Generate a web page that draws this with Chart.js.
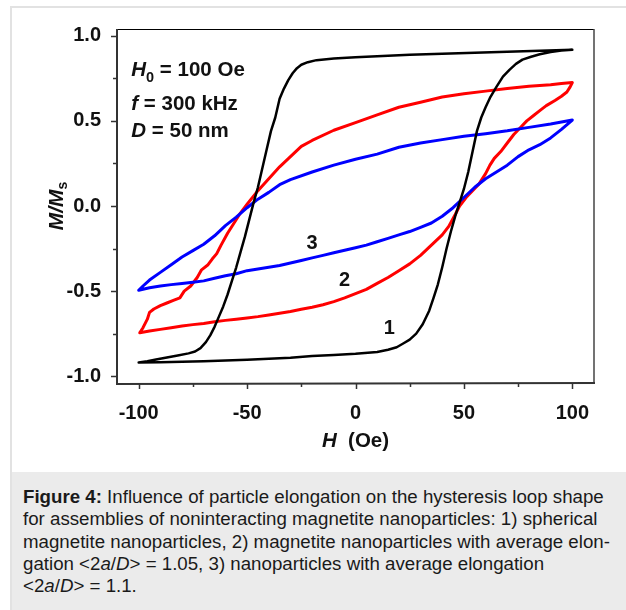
<!DOCTYPE html>
<html><head><meta charset="utf-8">
<script src="https://cdn.jsdelivr.net/npm/chart.js@4"></script>
<style>
html,body{margin:0;padding:0;background:#fff;width:626px;height:610px;overflow:hidden;position:relative;font-family:"Liberation Sans",Arial,sans-serif;}
#frame{position:absolute;left:10px;top:6px;width:640px;height:640px;border:2px solid #e2e2e2;box-sizing:border-box;}
#cap{position:absolute;left:12px;top:472px;width:640px;height:160px;background:#ebebeb;}
#captext{position:absolute;left:23px;top:486px;font-size:18.7px;line-height:22.3px;color:#1a1a1a;white-space:nowrap;}
canvas{position:absolute;left:0;top:0;}
</style></head><body>
<div id="frame"></div><div id="cap"></div>
<div id="captext"><b>Figure 4:</b> Influence of particle elongation on the hysteresis loop shape<br>for assemblies of noninteracting magnetite nanoparticles: 1) spherical<br>magnetite nanoparticles, 2) magnetite nanoparticles with average elon-<br>gation &lt;2<i>a</i>/<i>D</i>&gt; = 1.05, 3) nanoparticles with average elongation<br>&lt;2<i>a</i>/<i>D</i>&gt; = 1.1.</div>
<canvas id="c" width="626" height="470"></canvas>
<script>
// ---- tick values ----
const xTicks = [-100, -50, 0, 50, 100];
const xMinor = [-75, -25, 25, 75];
const yTicks = [-1, -0.5, 0, 0.5, 1];
const yMinor = [-0.75, -0.25, 0.25, 0.75];

// ---- curve 1 (black): lower branch then upper branch ----
const h1 = [-100,-90,-80,-70,-60,-50,-40,-30,-20,-10,0,10,15,19,22,25,28,31,34,36,38,40,42,44,46,48,50,52,54,56,58,60,62,65,68,71,74,77,81,85,90,95,100,
            85,70,55,40,25,10,0,-10,-18,-22,-25,-27,-29,-31,-33,-35,-37,-39,-41,-43,-45,-47,-49,-51,-53,-55,-57,-59,-61,-63,-65,-67,-69,-71.5,-74,-77,-82,-87,-92,-96,-100];
const m1 = [-0.92,-0.918,-0.915,-0.912,-0.908,-0.903,-0.897,-0.891,-0.882,-0.875,-0.868,-0.858,-0.845,-0.830,-0.808,-0.785,-0.75,-0.695,-0.615,-0.54,-0.46,-0.36,-0.25,-0.15,-0.06,0.02,0.10,0.20,0.32,0.44,0.52,0.58,0.635,0.70,0.76,0.80,0.835,0.86,0.877,0.892,0.905,0.913,0.918,
            0.912,0.906,0.900,0.895,0.888,0.880,0.874,0.866,0.857,0.845,0.83,0.81,0.78,0.74,0.69,0.63,0.52,0.44,0.33,0.22,0.11,0.02,-0.08,-0.18,-0.27,-0.36,-0.44,-0.52,-0.59,-0.65,-0.71,-0.76,-0.80,-0.835,-0.855,-0.866,-0.878,-0.89,-0.902,-0.912,-0.92];

// ---- curve 2 (red) ----
const h2 = [-99.5,-95,-90,-85,-80,-75,-70,-65,-60,-55,-50,-45,-40,-35,-30,-25,-20,-15,-10,-5,0,5,10,15,20,25,30,35,40,43,46,48,51,54,57,60,62,64,67,70,73,76,79,82,85,88,92,95,97.5,99,100,
            95,90,85,80,70,60,50,40,30,20,10,0,-10,-20,-25,-30,-35,-40,-45,-50,-53,-56,-59,-62,-64,-66,-68,-71,-73,-76,-79,-81,-84,-87,-90,-93,-95,-96,-98,-99.5];
const m2 = [-0.745,-0.735,-0.725,-0.715,-0.705,-0.697,-0.69,-0.68,-0.672,-0.665,-0.658,-0.65,-0.64,-0.63,-0.62,-0.607,-0.595,-0.58,-0.562,-0.54,-0.515,-0.49,-0.455,-0.42,-0.38,-0.34,-0.29,-0.23,-0.17,-0.12,-0.05,0.0,0.05,0.09,0.13,0.19,0.24,0.28,0.32,0.37,0.42,0.46,0.50,0.53,0.56,0.59,0.62,0.645,0.67,0.70,0.725,
            0.72,0.712,0.708,0.703,0.69,0.675,0.66,0.64,0.61,0.58,0.535,0.49,0.445,0.385,0.35,0.29,0.23,0.16,0.09,0.01,-0.04,-0.10,-0.16,-0.23,-0.28,-0.31,-0.345,-0.375,-0.42,-0.47,-0.5,-0.54,-0.555,-0.57,-0.585,-0.605,-0.625,-0.665,-0.715,-0.745];

// ---- curve 3 (blue) ----
const h3 = [-100,-95,-90,-85,-80,-75,-70,-65,-60,-55,-50,-45,-40,-35,-30,-25,-20,-15,-10,-5,0,5,10,15,20,25,30,35,40,45,50,55,60,65,70,75,80,85,90,95,100,
            90,80,70,60,50,40,30,20,10,0,-10,-20,-30,-35,-40,-45,-50,-55,-60,-65,-70,-75,-80,-85,-90,-95,-98,-100];
const m3 = [-0.495,-0.48,-0.47,-0.462,-0.455,-0.448,-0.44,-0.425,-0.41,-0.398,-0.38,-0.37,-0.36,-0.35,-0.335,-0.32,-0.305,-0.29,-0.275,-0.26,-0.245,-0.23,-0.21,-0.19,-0.17,-0.15,-0.125,-0.10,-0.06,-0.01,0.05,0.11,0.16,0.20,0.24,0.29,0.33,0.36,0.40,0.45,0.505,
            0.482,0.462,0.442,0.425,0.41,0.39,0.37,0.345,0.305,0.275,0.24,0.20,0.155,0.125,0.08,0.04,-0.01,-0.065,-0.115,-0.175,-0.225,-0.262,-0.30,-0.345,-0.39,-0.435,-0.47,-0.495];

const labels3 = ['1', '2', '3'];
const labelPos = [[15.6, -0.72], [-5, -0.435], [-20, -0.22]];

function pts(h, m) { return h.map((v, i) => ({x: v, y: m[i]})); }

const FONT = '"Liberation Sans", Arial, sans-serif';

const deco = {
  id: 'deco',
  afterDraw(chart) {
    const {ctx, chartArea: a, scales: {x, y}} = chart;
    ctx.save();
    // frame
    ctx.strokeStyle = '#000'; ctx.lineWidth = 1;
    ctx.beginPath(); ctx.moveTo(a.left, a.top + 0.5); ctx.lineTo(a.right, a.top + 0.5); ctx.stroke();
    ctx.strokeStyle = '#444'; ctx.lineWidth = 1.5;
    ctx.beginPath(); ctx.moveTo(a.right, a.top); ctx.lineTo(a.right, a.bottom); ctx.stroke();
    ctx.strokeStyle = '#333'; ctx.lineWidth = 2;
    ctx.beginPath(); ctx.moveTo(a.left, a.top); ctx.lineTo(a.left, a.bottom + 1); ctx.lineTo(a.right + 1, a.bottom); ctx.stroke();
    // ticks
    ctx.lineWidth = 1.5;
    const tk = (vals, len, horiz) => {
      vals.forEach(v => {
        ctx.beginPath();
        if (horiz) { const px = Math.round(x.getPixelForValue(v)) + 0.5; ctx.moveTo(px, a.bottom); ctx.lineTo(px, a.bottom + len); }
        else { const py = Math.round(y.getPixelForValue(v)) + 0.5; ctx.moveTo(a.left, py); ctx.lineTo(a.left - len, py); }
        ctx.stroke();
      });
    };
    tk(xTicks, 6, true); tk(xMinor, 4, true); tk(yTicks, 6, false); tk(yMinor, 4, false);

    ctx.fillStyle = '#111';
    ctx.textBaseline = 'alphabetic'; ctx.textAlign = 'left';
    const run = (x0, y0, pieces) => {
      let cx = x0;
      pieces.forEach(p => { ctx.font = p.f; ctx.fillText(p.t, cx, y0 + (p.dy || 0)); cx += ctx.measureText(p.t).width; });
    };
    const width = (pieces) => pieces.reduce((s, p) => { ctx.font = p.f; return s + ctx.measureText(p.t).width; }, 0);
    const B = 'bold 20.5px ' + FONT, BI = 'italic bold 20.5px ' + FONT, BS = 'bold 14.5px ' + FONT;
    const ax = x.getPixelForValue(-103.4);
    run(ax, y.getPixelForValue(0.765), [{t: 'H', f: BI}, {t: '0', f: BS, dy: 6}, {t: ' = 100 Oe', f: B}]);
    run(ax, y.getPixelForValue(0.565), [{t: 'f', f: BI}, {t: ' = 300 kHz', f: B}]);
    run(ax, y.getPixelForValue(0.406), [{t: 'D', f: BI}, {t: ' = 50 nm', f: B}]);

    // curve numbers
    ctx.font = 'bold 20px ' + FONT; ctx.textAlign = 'center'; ctx.textBaseline = 'middle';
    labels3.forEach((t, i) => ctx.fillText(t, x.getPixelForValue(labelPos[i][0]), y.getPixelForValue(labelPos[i][1])));

    // x title
    ctx.textAlign = 'left'; ctx.textBaseline = 'alphabetic';
    const xt = [{t: 'H', f: 'italic bold 20.5px ' + FONT}, {t: '  (Oe)', f: 'bold 20.5px ' + FONT}];
    run((a.left + a.right) / 2 - width(xt) / 2, 447, xt);

    // y title
    ctx.save();
    ctx.translate(55, (a.top + a.bottom) / 2);
    ctx.rotate(-Math.PI / 2);
    const yt = [{t: 'M/M', f: 'italic bold 21px ' + FONT}, {t: 's', f: 'bold 14px ' + FONT, dy: 4}];
    run(-width(yt) / 2, 7.5, yt);
    ctx.restore();
    ctx.restore();
  }
};

const tickFont = {family: FONT, size: 20, weight: 'bold'};

new Chart(document.getElementById('c'), {
  type: 'scatter',
  data: {
    datasets: [
      {data: pts(h1, m1), borderColor: '#000000', borderWidth: 2.5},
      {data: pts(h3, m3), borderColor: '#0000ff', borderWidth: 3},
      {data: pts(h2, m2), borderColor: '#ff0000', borderWidth: 3}
    ].map(d => Object.assign(d, {showLine: true, pointRadius: 0, tension: 0, fill: false, borderJoinStyle: 'round', borderCapStyle: 'round'}))
  },
  options: {
    responsive: false, animation: false, devicePixelRatio: 1,
    layout: {padding: {left: 0, top: 29, right: 32, bottom: 0}},
    plugins: {legend: {display: false}, tooltip: {enabled: false}},
    scales: {
      x: {
        type: 'linear', min: -110, max: 110,
        afterBuildTicks: s => { s.ticks = xTicks.map(v => ({value: v})); },
        afterFit: s => { s.height = 87; },
        grid: {display: false}, border: {display: false},
        ticks: {font: tickFont, color: '#111', padding: 10, maxRotation: 0, autoSkip: false, callback: v => String(v)}
      },
      y: {
        type: 'linear', min: -1.04, max: 1.04,
        afterBuildTicks: s => { s.ticks = yTicks.map(v => ({value: v})); },
        afterFit: s => { s.width = 117; },
        grid: {display: false}, border: {display: false},
        ticks: {font: tickFont, color: '#111', padding: 8, autoSkip: false, callback: v => Number(v).toFixed(1)}
      }
    }
  },
  plugins: [deco]
});
</script>
</body></html>
